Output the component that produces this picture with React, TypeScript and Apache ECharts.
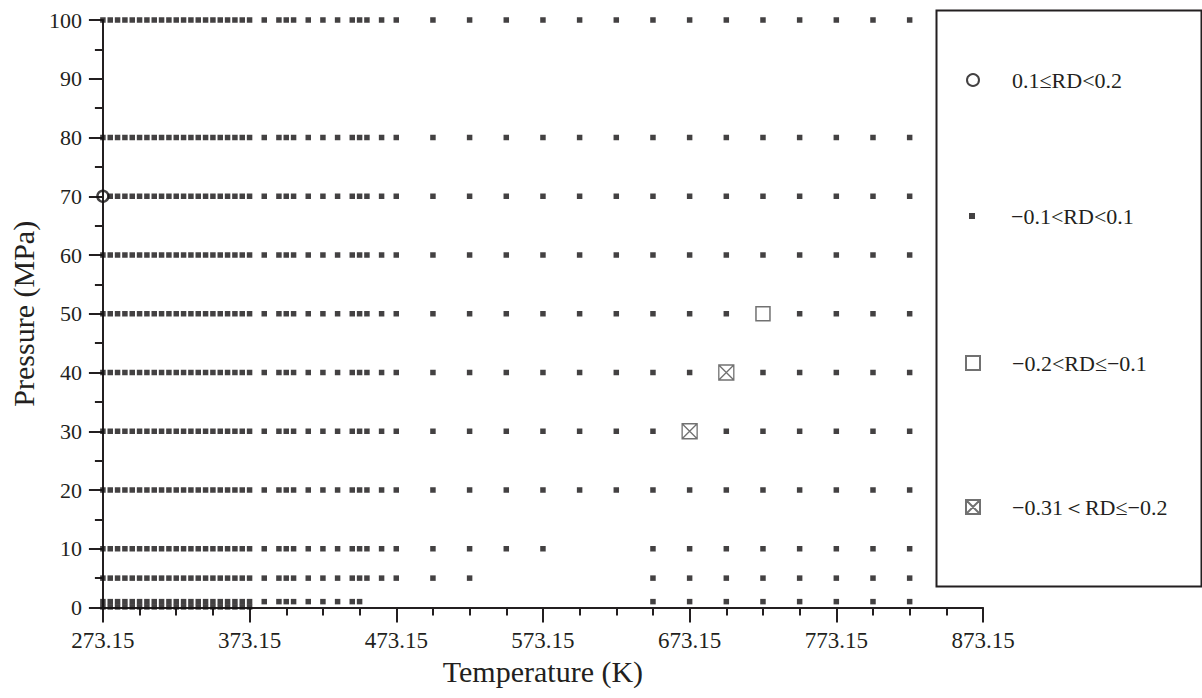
import React, { useEffect, useRef } from "react";
import * as echarts from "echarts";

// Temperatures (K)
const T0 = 273.15;
const tempLow = [273.15, 278.15, 283.15, 288.15, 293.15, 298.15, 303.15, 308.15, 313.15, 318.15, 323.15, 328.15, 333.15, 338.15, 343.15, 348.15, 353.15, 358.15, 363.15, 368.15, 373.15];
const tempMid = [383.15, 393.15, 398.15, 403.15, 413.15, 423.15, 433.15, 443.15, 448.15, 453.15, 463.15, 473.15];
const tempMid1MPa = [383.15, 393.15, 398.15, 403.15, 413.15, 423.15, 433.15, 443.15, 448.15];
const tempHigh = [498.15, 523.15, 548.15, 573.15, 598.15, 623.15];
const tempHigh10MPa = [498.15, 523.15, 548.15, 573.15];
const tempHigh5MPa = [498.15, 523.15];
const tempSuper = [648.15, 673.15, 698.15, 723.15, 748.15, 773.15, 798.15, 823.15];

// Pressures (MPa)
const fullRowPressures = [100, 80, 70, 60, 50, 40, 30, 20];

// Deviating points [T (K), P (MPa)]
const pointsCircle = [[273.15, 70]];
const pointsSquare = [[723.15, 50]];
const pointsCross = [[673.15, 30], [698.15, 40]];

// Axis tick labels
const yTicks = [0, 10, 20, 30, 40, 50, 60, 70, 80, 90, 100];
const xTickLabels = ["273.15", "373.15", "473.15", "573.15", "673.15", "773.15", "873.15"];

const names = ["0.1≤RD<0.2", "−0.1<RD<0.1", "−0.2<RD≤−0.1", "−0.31＜RD≤−0.2"];

const FONT = "Liberation Serif";
const INK = "#231f20";
const MARK = "#141213";

function buildMain(): number[][] {
  const rows: [number, number[]][] = [];
  fullRowPressures.forEach((p) => rows.push([p, [...tempLow, ...tempMid, ...tempHigh, ...tempSuper]]));
  rows.push([10, [...tempLow, ...tempMid, ...tempHigh10MPa, ...tempSuper]]);
  rows.push([5, [...tempLow, ...tempMid, ...tempHigh5MPa, ...tempSuper]]);
  rows.push([1, [...tempLow, ...tempMid1MPa, ...tempSuper]]);
  rows.push([0.1, [...tempLow]]);
  const outliers = [...pointsCircle, ...pointsSquare, ...pointsCross];
  const out: number[][] = [];
  rows.forEach(([p, temps]) => {
    temps.forEach((t) => {
      if (outliers.some((o) => Math.abs(o[0] - t) < 0.01 && o[1] === p)) return;
      out.push([+(t - T0).toFixed(2), p]);
    });
  });
  return out;
}

const toXY = (pts: number[][]) => pts.map((d) => [+(d[0] - T0).toFixed(2), d[1]]);

const crossPath = "path://M0,0L10,0L10,10L0,10ZM0,0L10,10M10,0L0,10";

export default function App() {
  const ref = useRef<HTMLDivElement>(null);
  useEffect(() => {
    if (!ref.current) return;
    const chart = echarts.init(ref.current, null, { renderer: "svg" });
    const ICON_CX = 972;
    const TEXT_X = 1011;
    const mkLegend = (name: string, size: number, cy: number) => ({
      data: [name],
      orient: "vertical",
      left: ICON_CX - size / 2,
      top: cy - 11,
      itemWidth: size,
      itemHeight: size,
      padding: 0,
      selectedMode: false,
      textStyle: {
        fontFamily: FONT,
        fontSize: 22,
        color: INK,
        padding: [0, 0, 0, TEXT_X - (ICON_CX + size / 2) - 5],
      },
    });
    chart.setOption({
      animation: false,
      backgroundColor: "#ffffff",
      textStyle: { fontFamily: FONT, color: INK },
      grid: { left: 102, right: 219, top: 20, bottom: 90.5, containLabel: false },
      xAxis: {
        type: "value",
        min: 0,
        max: 600,
        interval: 100,
        name: "Temperature (K)",
        nameLocation: "middle",
        nameGap: 42,
        nameTextStyle: { fontFamily: FONT, fontSize: 30, color: INK },
        axisLine: { show: true, onZero: false, lineStyle: { color: INK, width: 2 } },
        axisTick: { show: true, length: 15, lineStyle: { color: INK, width: 2 } },
        minorTick: { show: true, splitNumber: 4, length: 8, lineStyle: { color: INK, width: 2 } },
        splitLine: { show: false },
        axisLabel: {
          fontFamily: FONT,
          fontSize: 23,
          color: INK,
          margin: 21,
          formatter: (v: number) => xTickLabels[Math.round(v / 100)] ?? (v + T0).toFixed(2),
        },
      },
      yAxis: {
        type: "value",
        min: yTicks[0],
        max: yTicks[yTicks.length - 1],
        interval: 10,
        name: "Pressure (MPa)",
        nameLocation: "middle",
        nameRotate: 90,
        nameGap: 62,
        nameTextStyle: { fontFamily: FONT, fontSize: 30, color: INK },
        axisLine: { show: true, onZero: false, lineStyle: { color: INK, width: 2 } },
        axisTick: { show: true, length: 14, lineStyle: { color: INK, width: 2 } },
        minorTick: { show: true, splitNumber: 2, length: 8, lineStyle: { color: INK, width: 2 } },
        splitLine: { show: false },
        axisLabel: { fontFamily: FONT, fontSize: 22, color: INK, margin: 21 },
      },
      legend: [
        mkLegend(names[0], 12, 80),
        mkLegend(names[1], 6, 216),
        mkLegend(names[2], 14, 363),
        mkLegend(names[3], 14, 507),
      ],
      graphic: [
        {
          type: "rect",
          left: 934,
          top: 8,
          shape: { x: 0, y: 0, width: 265, height: 576 },
          style: { fill: "none", stroke: INK, lineWidth: 2 },
          z: 10,
        },
      ],
      series: [
        {
          name: names[1],
          type: "scatter",
          symbol: "rect",
          symbolSize: 5.5,
          clip: false,
          itemStyle: { color: MARK },
          data: buildMain(),
          z: 2,
        },
        {
          name: names[0],
          type: "scatter",
          symbol: "circle",
          symbolSize: 11,
          clip: false,
          itemStyle: { color: "rgba(255,255,255,0)", borderColor: MARK, borderWidth: 2.4 },
          data: toXY(pointsCircle),
          z: 3,
        },
        {
          name: names[2],
          type: "scatter",
          symbol: "rect",
          symbolSize: 14,
          clip: false,
          itemStyle: { color: "#ffffff", borderColor: "#4d4d4d", borderWidth: 1.5 },
          data: toXY(pointsSquare),
          z: 3,
        },
        {
          name: names[3],
          type: "scatter",
          symbol: crossPath,
          symbolSize: 15,
          clip: false,
          itemStyle: { color: "#ffffff", borderColor: "#4d4d4d", borderWidth: 1.3 },
          data: toXY(pointsCross),
          z: 3,
        },
      ],
    });
    return () => chart.dispose();
  }, []);
  return <div ref={ref} style={{ width: 1202, height: 698, position: "absolute", left: 0, top: 0 }} />;
}
